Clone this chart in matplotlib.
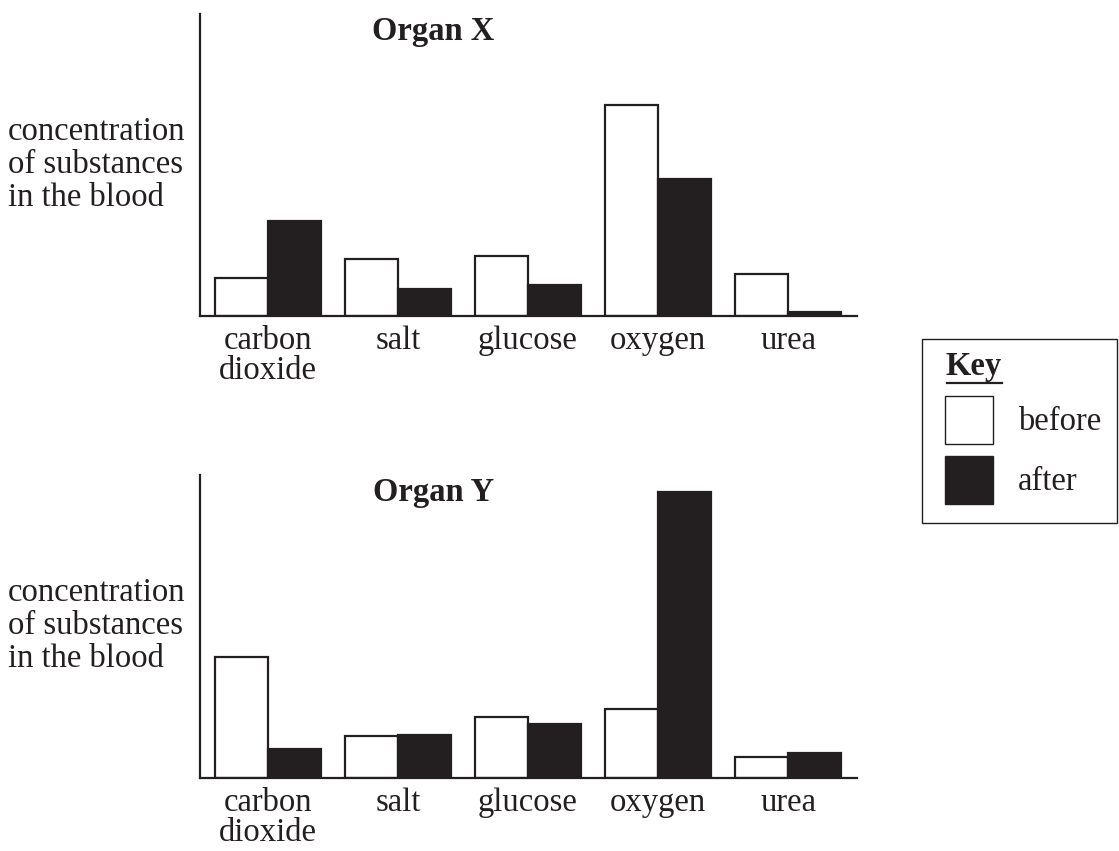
import numpy as np
import matplotlib.pyplot as plt
from matplotlib.patches import Rectangle

plt.rcParams['font.family'] = ['Liberation Serif', 'DejaVu Serif']

# ------------------ DATA ----------------------------------------------------

substances = ['carbon\ndioxide', 'salt', 'glucose', 'oxygen', 'urea']

x_before = [38, 57, 60, 211, 42]   # Organ X, avant
x_after = [95, 27, 31, 137, 4]     # Organ X, apres

y_before = [121, 42, 61, 69, 21]   # Organ Y, avant
y_after = [29, 43, 54, 285, 25]    # Organ Y, apres

ylabel = 'concentration\nof substances\nin the blood'

noir = '#231f20'
W, H = 1119, 851
fs = 23.5

fig = plt.figure(figsize=(W / 100, H / 100), dpi=100)


def organ(bottom_px, top_px, title, before, after):
    ax = fig.add_axes([200 / W, 1 - bottom_px / H, 657 / W, (bottom_px - top_px) / H])
    pos = np.arange(len(substances))
    w = 0.408
    ax.bar(pos - w / 2, before, w, color='white', edgecolor=noir, linewidth=1.6)
    ax.bar(pos + w / 2, after, w, color=noir, edgecolor=noir, linewidth=1.6)
    ax.set_xlim(-0.523, 4.53)
    ax.set_ylim(0, 302)
    for s in ['top', 'right']:
        ax.spines[s].set_visible(False)
    for s in ['left', 'bottom']:
        ax.spines[s].set_linewidth(1.6)
        ax.spines[s].set_color(noir)
    ax.set_yticks([])
    ax.set_xticks(pos)
    ax.set_xticklabels(substances, fontsize=fs, color=noir, linespacing=0.98)
    ax.tick_params(axis='x', length=0, pad=7)
    ax.text(0.355, 0.995, title, transform=ax.transAxes, ha='center', va='top',
            fontsize=fs, fontweight='bold', color=noir)
    fig.text(8 / W, 1 - (top_px + 151) / H, ylabel, ha='left', va='center',
             fontsize=fs, color=noir, linespacing=1.1)
    return ax


organ(316, 14, 'Organ X', x_before, x_after)
organ(778, 475, 'Organ Y', y_before, y_after)

# ------------------ KEY -----------------------------------------------------

key = fig.add_axes([0, 0, 1, 1])
key.set_xlim(0, W)
key.set_ylim(H, 0)
key.axis('off')
key.add_patch(Rectangle((922, 339), 195, 184, facecolor='none', edgecolor=noir, linewidth=1.0))
key.text(946, 367, 'Key', fontsize=fs, fontweight='bold', color=noir, ha='left', va='center')
key.plot([947, 1002], [383, 383], color=noir, linewidth=1.6)
key.add_patch(Rectangle((945, 396), 48, 48, facecolor='white', edgecolor=noir, linewidth=1.0))
key.add_patch(Rectangle((945, 456), 48, 48, facecolor=noir, edgecolor=noir, linewidth=1.0))
key.text(1018, 422, 'before', fontsize=fs, color=noir, ha='left', va='center')
key.text(1018, 482, 'after', fontsize=fs, color=noir, ha='left', va='center')

plt.savefig('out.png', dpi=100)
